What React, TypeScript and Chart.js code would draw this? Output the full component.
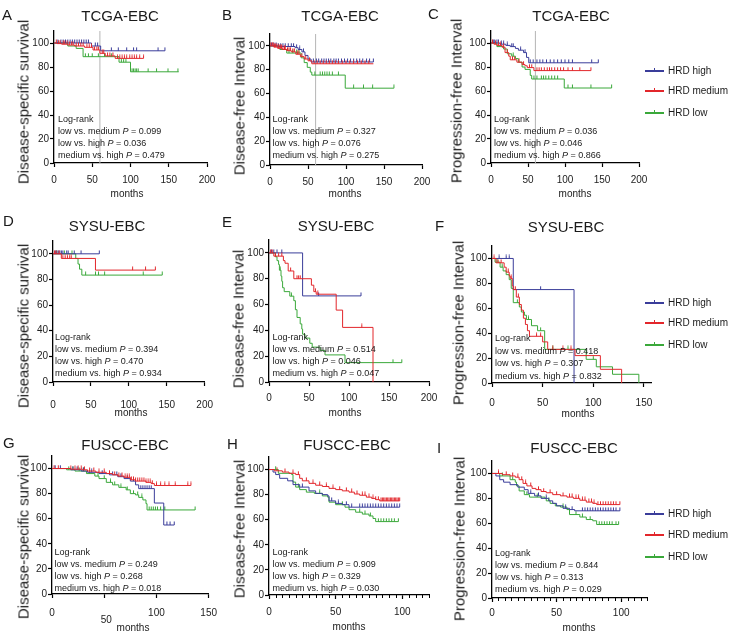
import React, { useEffect, useRef } from "react";
import { Chart, registerables } from "chart.js";
Chart.register(...registerables);

type Pt = [number, number];

// ---------- shared tick / label values ----------
const Y_TICKS = [0, 20, 40, 60, 80, 100];
const X_TICKS_200 = [0, 50, 100, 150, 200];
const X_TICKS_150 = [0, 50, 100, 150];
const X_TICKS_100 = [0, 50, 100];
const REF_MONTH = 60;
const GROUPS = ["HRD high", "HRD medium", "HRD low"];
const COMPARISONS = ["low vs. medium", "low vs. high", "medium vs. high"];

// ---------- P values ----------
const P_A = ["0.099", "0.036", "0.479"];
const P_B = ["0.327", "0.076", "0.275"];
const P_C = ["0.036", "0.046", "0.866"];
const P_D = ["0.394", "0.470", "0.934"];
const P_E = ["0.514", "0.046", "0.047"];
const P_F = ["0.418", "0.307", "0.832"];
const P_G = ["0.249", "0.268", "0.018"];
const P_H = ["0.909", "0.329", "0.030"];
const P_I = ["0.844", "0.313", "0.029"];

// ---------- A: TCGA DSS ----------
const A_high: Pt[] = [[0, 100], [49, 97.5], [61, 93.5], [145, 93.5]];
const A_high_c = [5, 9, 12, 15, 18, 21, 24, 27, 30, 33, 36, 39, 42, 45, 54, 57, 75, 84, 95, 104, 108, 136, 145];
const A_med: Pt[] = [[0, 100], [4, 99.5], [10, 99], [18, 98.3], [27, 97.5], [40, 96.4], [51, 94.2], [60, 91.4], [67, 89.2], [80, 87.2], [117, 87.2]];
const A_med_c = [3, 6, 8, 12, 14, 17, 20, 23, 25, 29, 32, 35, 38, 43, 46, 49, 53, 56, 58, 63, 65, 70, 73, 77, 83, 86, 89, 92, 95, 99, 102, 105, 108, 112, 117];
const A_low: Pt[] = [[0, 100], [18, 97.5], [29, 95.5], [38, 88.6], [85, 84], [100, 76], [163, 76]];
const A_low_c = [41, 45, 50, 58, 66, 75, 88, 91, 94, 102, 104, 106, 108, 110, 123, 134, 149, 162];

// ---------- B: TCGA DFI ----------
const B_high: Pt[] = [[0, 100], [10, 99.5], [33, 98.5], [37, 97], [42, 95], [46, 92], [50, 89], [54, 86.5], [136, 86.5]];
const B_high_c = [2, 5, 8, 11, 14, 17, 20, 24, 28, 31, 35, 39, 44, 57, 61, 64, 68, 71, 74, 77, 80, 84, 87, 90, 94, 98, 102, 106, 110, 114, 118, 122, 127, 131, 136];
const B_med: Pt[] = [[0, 100], [5, 99], [10, 98], [16, 97], [22, 96], [28, 95], [34, 93], [40, 91], [45, 89], [50, 87.5], [55, 85], [136, 85]];
const B_med_c = [1, 3, 4, 6, 7, 9, 11, 12, 14, 15, 17, 19, 20, 23, 25, 27, 30, 32, 36, 38, 42, 47, 52, 58, 62, 66, 70, 74, 78, 82, 86, 90, 95, 100, 105, 110, 115, 120, 125, 130];
const B_low: Pt[] = [[0, 100], [13, 97], [22, 94], [41, 90], [45, 86], [49, 82], [53, 78], [55, 75.5], [99, 64.5], [163, 64.5]];
const B_low_c = [25, 30, 35, 38, 59, 66, 69, 72, 75, 78, 82, 90, 110, 123, 135, 163];

// ---------- C: TCGA PFI ----------
const C_high: Pt[] = [[0, 100], [12, 99], [20, 98], [26, 97], [33, 95.5], [37, 94], [44, 92], [48, 88], [51, 83.5], [145, 83.5]];
const C_high_c = [3, 5, 8, 10, 14, 17, 22, 28, 30, 40, 46, 53, 57, 62, 66, 70, 75, 80, 85, 90, 95, 100, 105, 110, 136, 145];
const C_med: Pt[] = [[0, 100], [4, 99], [8, 98], [15, 96.5], [19, 92], [24, 89], [26, 86], [35, 84], [42, 82], [46, 81], [49, 79.5], [58, 77], [135, 77]];
const C_med_c = [2, 6, 10, 13, 17, 22, 29, 32, 38, 44, 52, 55, 62, 65, 68, 72, 76, 79, 82, 86, 90, 94, 98, 104, 110, 120, 135];
const C_low: Pt[] = [[0, 100], [8, 97], [17, 95], [22, 91], [28, 89], [33, 87], [37, 84], [42, 80], [46, 78], [53, 73], [55, 70], [99, 62.5], [163, 62.5]];
const C_low_c = [30, 58, 62, 68, 71, 74, 78, 82, 86, 90, 104, 110, 135, 163];

// ---------- D: SYSU DSS ----------
const D_high: Pt[] = [[0, 100], [61, 100]];
const D_high_c = [3, 5, 7, 9, 11, 13, 18, 20, 28, 37, 61];
const D_med: Pt[] = [[0, 100], [11, 96.4], [56, 87.3], [135, 87.3]];
const D_med_c = [2, 4, 8, 13, 16, 19, 22, 24, 105, 122, 135];
const D_low: Pt[] = [[0, 100], [30, 96.4], [33, 92], [35, 88], [38, 83.4], [144, 83.4]];
const D_low_c = [5, 15, 25, 43, 56, 60, 68, 119, 144];

// ---------- E: SYSU DFI ----------
const E_high: Pt[] = [[0, 100], [42, 66.7], [115, 66.7]];
const E_high_c = [3, 6, 10, 16, 62, 115];
const E_med: Pt[] = [[0, 100], [6, 97.5], [18, 94], [20, 92], [24, 86], [31, 80], [53, 75], [56, 70], [59, 68], [84, 55.7], [92, 42.3], [130, 0]];
const E_med_c = [2, 4, 8, 12, 16, 27, 35, 37, 39, 58, 61, 116];
const E_low: Pt[] = [[0, 100], [8, 97], [10, 94], [12, 91], [13, 86.6], [15, 82], [16, 78], [17, 73], [19, 70], [26, 66.5], [31, 63], [33, 56], [35, 50], [39, 45], [41, 41], [42, 37], [45, 34], [51, 30], [54, 27], [64, 24.5], [70, 21], [95, 15], [166, 15]];
const E_low_c = [14, 28, 155, 166];

// ---------- F: SYSU PFI ----------
const F_high: Pt[] = [[0, 100], [21, 75], [81, 0]];
const F_high_c = [7, 14, 17, 48];
const F_med: Pt[] = [[0, 100], [4, 96.5], [12, 93], [14, 89], [17, 86], [18, 84], [20, 78], [21, 75], [24, 69], [27, 63], [29, 58.5], [31, 52], [33, 47], [35, 42], [37, 37.5], [50, 33], [55, 27], [82, 22], [107, 11], [128, 0]];
const F_med_c = [2, 6, 9, 16, 19, 23, 26, 44, 48, 60, 70, 78];
const F_low: Pt[] = [[0, 100], [3, 97], [8, 93], [11, 90], [14, 87], [17, 83], [19, 76], [21, 64.5], [27, 61], [29, 57], [32, 54.4], [34, 51], [39, 46], [45, 42], [52, 27], [93, 19], [103, 13], [119, 7], [145, 0]];
const F_low_c = [5, 10, 25, 36, 48, 60, 75, 100];

// ---------- G: FUSCC DSS ----------
const G_high: Pt[] = [[0, 100], [18, 99], [28, 98], [34, 97], [45, 96], [55, 95], [63, 93.5], [69, 92], [75, 90], [80, 87], [83, 84], [98, 72.5], [107, 55], [117, 55]];
const G_high_c = [3, 8, 20, 24, 30, 38, 48, 58, 62, 66, 72, 78, 85, 87, 89, 91, 93, 95, 110, 113, 117];
const G_med: Pt[] = [[0, 100], [18, 99.5], [29, 99], [34, 98], [42, 97], [52, 96], [58, 95], [63, 94], [69, 93], [75, 91], [80, 90], [90, 89], [95, 88], [98, 86.5], [133, 86.5]];
const G_med_c = [2, 6, 18, 22, 25, 28, 31, 36, 40, 45, 50, 55, 60, 64, 67, 70, 72, 74, 76, 78, 80, 82, 84, 86, 88, 90, 92, 94, 96, 100, 104, 108, 112, 118, 130, 133];
const G_low: Pt[] = [[0, 100], [14, 99], [22, 98], [33, 96], [41, 94], [45, 92], [52, 89], [58, 87], [64, 85], [71, 83], [75, 80], [80, 79], [83, 77], [87, 75], [90, 72], [91, 67], [137, 67]];
const G_low_c = [16, 20, 26, 30, 36, 44, 50, 56, 60, 66, 72, 78, 82, 86, 93, 95, 97, 99, 101, 104, 108, 137];

// ---------- H: FUSCC DFI ----------
const H_high: Pt[] = [[0, 100], [3, 98], [5, 96], [8, 93], [14, 91], [18, 88], [23, 86], [30, 83], [35, 81], [40, 80], [44, 79], [45, 75], [50, 73], [55, 72], [60, 70], [98, 70]];
const H_high_c = [25, 47, 52, 58, 62, 68, 70, 72, 74, 76, 78, 80, 82, 84, 86, 88, 90, 92, 94, 96, 98];
const H_med: Pt[] = [[0, 100], [4, 99], [10, 98], [15, 97], [20, 96], [23, 93], [25, 91], [30, 89], [35, 87.5], [40, 86.5], [45, 85], [50, 84], [55, 83], [60, 82], [64, 80.5], [68, 79.5], [73, 78], [77, 77], [80, 76], [83, 75], [98, 75]];
const H_med_c = [6, 12, 18, 22, 28, 33, 38, 43, 48, 53, 58, 62, 66, 70, 72, 75, 78, 80, 82, 84, 85, 86, 87, 88, 89, 90, 91, 92, 93, 94, 95, 96, 97, 98];
const H_low: Pt[] = [[0, 100], [7, 97], [17, 96], [18, 90], [20, 86], [23, 84], [28, 82], [34, 81], [40, 79], [44, 78], [45, 74], [50, 72], [57, 70], [60, 68], [65, 66], [70, 64.5], [75, 63], [78, 61], [80, 58.5], [97, 58.5]];
const H_low_c = [5, 22, 38, 55, 68, 72, 76, 82, 84, 86, 88, 90, 92, 94, 97];

// ---------- I: FUSCC PFI ----------
const I_high: Pt[] = [[0, 100], [3, 98], [6, 95], [9, 93], [14, 91], [20, 89], [25, 87], [28, 84], [33, 82], [38, 80], [44, 78], [47, 76], [50, 74], [55, 72], [60, 71], [64, 70], [99, 70]];
const I_high_c = [30, 36, 42, 57, 62, 70, 72, 74, 76, 78, 80, 82, 84, 86, 88, 90, 92, 94, 96, 99];
const I_med: Pt[] = [[0, 100], [8, 99], [14, 98], [18, 97], [21, 95], [24, 92], [27, 90], [31, 88], [34, 87], [38, 85.5], [42, 84.5], [47, 83], [53, 82], [58, 81], [63, 80], [68, 78.5], [73, 77], [78, 76], [81, 75], [99, 75]];
const I_med_c = [5, 11, 16, 20, 23, 26, 30, 36, 40, 45, 50, 55, 60, 62, 65, 67, 70, 72, 75, 77, 79, 82, 84, 86, 88, 90, 92, 94, 96, 99];
const I_low: Pt[] = [[0, 100], [6, 98], [14, 95], [18, 93], [19, 90], [21, 86], [25, 83], [29, 81], [41, 80], [42, 78], [45, 76], [49, 74], [53, 73], [58, 71], [60, 67], [68, 65], [73, 63], [78, 62], [81, 59], [98, 59]];
const I_low_c = [8, 16, 27, 35, 44, 55, 65, 70, 76, 83, 85, 87, 89, 91, 93, 96, 98];

// ---------- styling ----------
const BLUE = "#3a3d9a";
const RED = "#e2262b";
const GREEN = "#3aa83a";
const FONT = "'Liberation Sans', Arial, Helvetica, sans-serif";
const TEXT = "#1a1a1a";

type Series = { color: string; steps: Pt[]; cens: number[] };
type PanelSpec = {
  letter: string; letterX: number; letterY: number;
  title: string; titleX: number; titleY: number;
  ylabel: string; ylX: number; ylY: number;
  mX: number; mY: number;
  x0: number; x1: number; yTop: number; yB: number;
  xMax: number; xTicks: number[]; tickPad: number; minor: number; ref: boolean;
  dropTick?: number; dropDy?: number; dropDx?: number;
  pvals: string[]; lrX: number; lrY: number; lrLH: number;
  series: Series[];
};

const ser = (color: string, steps: Pt[], cens: number[]): Series => ({ color, steps, cens });

const PANELS: PanelSpec[] = [
  { letter: "A", letterX: 2, letterY: 14, title: "TCGA-EBC", titleX: 120, titleY: 15, ylabel: "Disease-specific survival", ylX: 23, ylY: 102, mX: 127, mY: 194,
    x0: 54, x1: 207, yTop: 31, yB: 163, xMax: 200, xTicks: X_TICKS_200, tickPad: 7, minor: 0, ref: true,
    pvals: P_A, lrX: 58, lrY: 118.5, lrLH: 12.3,
    series: [ser(RED, A_med, A_med_c), ser(BLUE, A_high, A_high_c), ser(GREEN, A_low, A_low_c)] },
  { letter: "B", letterX: 222, letterY: 14, title: "TCGA-EBC", titleX: 340, titleY: 15, ylabel: "Disease-free Interval", ylX: 238.5, ylY: 106, mX: 345, mY: 194,
    x0: 270, x1: 422, yTop: 34, yB: 165, xMax: 200, xTicks: X_TICKS_200, tickPad: 7, minor: 0, ref: true,
    pvals: P_B, lrX: 272.5, lrY: 118.5, lrLH: 12.3,
    series: [ser(RED, B_med, B_med_c), ser(BLUE, B_high, B_high_c), ser(GREEN, B_low, B_low_c)] },
  { letter: "C", letterX: 428, letterY: 13, title: "TCGA-EBC", titleX: 571, titleY: 15, ylabel: "Progression-free Interval", ylX: 456, ylY: 101, mX: 575, mY: 194,
    x0: 491, x1: 639, yTop: 31, yB: 163, xMax: 200, xTicks: X_TICKS_200, tickPad: 7, minor: 0, ref: true,
    pvals: P_C, lrX: 494, lrY: 118.5, lrLH: 12.3,
    series: [ser(RED, C_med, C_med_c), ser(BLUE, C_high, C_high_c), ser(GREEN, C_low, C_low_c)] },
  { letter: "D", letterX: 3, letterY: 220, title: "SYSU-EBC", titleX: 107, titleY: 225, ylabel: "Disease-specific survival", ylX: 22.5, ylY: 326, mX: 131, mY: 413,
    x0: 53, x1: 210, yTop: 241, yB: 382, xMax: 200, xTicks: X_TICKS_200, tickPad: 13, minor: 0, ref: false,
    pvals: P_D, lrX: 55, lrY: 336.7, lrLH: 12.2,
    series: [ser(RED, D_med, D_med_c), ser(BLUE, D_high, D_high_c), ser(GREEN, D_low, D_low_c)] },
  { letter: "E", letterX: 222, letterY: 221, title: "SYSU-EBC", titleX: 336, titleY: 225, ylabel: "Disease-free Interval", ylX: 238, ylY: 319, mX: 345, mY: 413,
    x0: 269, x1: 429, yTop: 240, yB: 382, xMax: 200, xTicks: X_TICKS_200, tickPad: 6, minor: 0, ref: false,
    pvals: P_E, lrX: 272.5, lrY: 336.7, lrLH: 12.2,
    series: [ser(RED, E_med, E_med_c), ser(BLUE, E_high, E_high_c), ser(GREEN, E_low, E_low_c)] },
  { letter: "F", letterX: 435, letterY: 225, title: "SYSU-EBC", titleX: 566, titleY: 226, ylabel: "Progression-free Interval", ylX: 458, ylY: 323, mX: 578, mY: 414,
    x0: 492, x1: 651, yTop: 246, yB: 383, xMax: 157, xTicks: X_TICKS_150, tickPad: 10, minor: 0, ref: false,
    pvals: P_F, lrX: 495, lrY: 338.3, lrLH: 12.5,
    series: [ser(RED, F_med, F_med_c), ser(BLUE, F_high, F_high_c), ser(GREEN, F_low, F_low_c)] },
  { letter: "G", letterX: 3, letterY: 442, title: "FUSCC-EBC", titleX: 125, titleY: 444, ylabel: "Disease-specific survival", ylX: 23, ylY: 537, mX: 133, mY: 628,
    x0: 52, x1: 210, yTop: 456, yB: 594, xMax: 150, xTicks: X_TICKS_150, tickPad: 9, minor: 0, ref: false,
    dropTick: 50, dropDy: 26, dropDx: 2,
    pvals: P_G, lrX: 54.5, lrY: 551.7, lrLH: 12.2,
    series: [ser(RED, G_med, G_med_c), ser(BLUE, G_high, G_high_c), ser(GREEN, G_low, G_low_c)] },
  { letter: "H", letterX: 227, letterY: 443, title: "FUSCC-EBC", titleX: 347, titleY: 444, ylabel: "Disease-free Interval", ylX: 239, ylY: 529, mX: 349, mY: 627,
    x0: 269, x1: 429, yTop: 457, yB: 595, xMax: 120, xTicks: X_TICKS_100, tickPad: 7, minor: 5, ref: false,
    pvals: P_H, lrX: 272.5, lrY: 551.7, lrLH: 12,
    series: [ser(RED, H_med, H_med_c), ser(BLUE, H_high, H_high_c), ser(GREEN, H_low, H_low_c)] },
  { letter: "I", letterX: 437, letterY: 447, title: "FUSCC-EBC", titleX: 574, titleY: 447, ylabel: "Progression-free Interval", ylX: 459, ylY: 539, mX: 579, mY: 628,
    x0: 492, x1: 647, yTop: 461, yB: 598, xMax: 120, xTicks: X_TICKS_100, tickPad: 5, minor: 5, ref: false,
    pvals: P_I, lrX: 495, lrY: 553.3, lrLH: 12,
    series: [ser(RED, I_med, I_med_c), ser(BLUE, I_high, I_high_c), ser(GREEN, I_low, I_low_c)] },
];

const LEGEND_ROWS = [
  [71, 91, 113],
  [303, 323, 345],
  [514, 535, 557],
];
const LEGEND_COLORS = [BLUE, RED, GREEN];

const PAD_L = 46, PAD_T = 12, PAD_R = 16, PAD_B = 36;

function stepValue(steps: Pt[], t: number): number {
  let v = steps[0][1];
  for (const [x, y] of steps) {
    if (x <= t) v = y;
    else break;
  }
  return v;
}

function tickImage(color: string): HTMLCanvasElement {
  const c = document.createElement("canvas");
  c.width = 3;
  c.height = 8;
  const g = c.getContext("2d")!;
  g.fillStyle = color;
  g.fillRect(1, 0.5, 1, 3.5);
  return c;
}

function KMPanel({ p }: { p: PanelSpec }) {
  const ref = useRef<HTMLCanvasElement | null>(null);
  const W = p.x1 - p.x0 + PAD_L + PAD_R;
  const H = p.yB - p.yTop + PAD_T + PAD_B;
  const L = p.x0 - PAD_L;
  const T = p.yTop - PAD_T;

  useEffect(() => {
    if (!ref.current) return;
    const datasets: any[] = [];
    for (const s of p.series) {
      datasets.push({
        data: s.steps.map(([x, y]) => ({ x, y })),
        showLine: true,
        stepped: true,
        borderColor: s.color,
        borderWidth: 1,
        pointRadius: 0,
        fill: false,
      });
      datasets.push({
        data: s.cens.map((t) => ({ x: t, y: stepValue(s.steps, t) })),
        showLine: false,
        pointStyle: tickImage(s.color),
        pointRadius: 3,
        borderWidth: 0,
        backgroundColor: s.color,
        borderColor: s.color,
      });
    }
    if (p.ref) {
      datasets.push({
        data: [{ x: REF_MONTH, y: 0 }, { x: REF_MONTH, y: 110 }],
        showLine: true,
        borderColor: "#b5b5b5",
        borderWidth: 1,
        pointRadius: 0,
      });
    }
    const extraPlugin = {
      id: "axisExtras",
      afterDraw(chart: any) {
        const xs = chart.scales.x;
        const ctx = chart.ctx;
        const yb = chart.chartArea.bottom;
        ctx.save();
        if (p.minor) {
          ctx.strokeStyle = "#000";
          ctx.lineWidth = 1;
          ctx.beginPath();
          for (let v = p.minor; v <= p.xMax; v += p.minor) {
            if (p.xTicks.includes(v)) continue;
            const px = Math.round(xs.getPixelForValue(v)) + 0.5;
            ctx.moveTo(px, yb);
            ctx.lineTo(px, yb + 3);
          }
          ctx.stroke();
        }
        if (p.dropTick !== undefined) {
          ctx.fillStyle = "#222";
          ctx.font = `10px ${FONT}`;
          ctx.textAlign = "center";
          ctx.textBaseline = "middle";
          ctx.fillText(String(p.dropTick), xs.getPixelForValue(p.dropTick) + (p.dropDx || 0), yb + (p.dropDy || 0));
        }
        ctx.restore();
      },
    };
    const axisCommon = {
      type: "linear" as const,
      grid: {
        display: true,
        drawOnChartArea: false,
        drawTicks: true,
        tickLength: 4,
        tickColor: "#000",
        tickWidth: 1.2,
        color: "rgba(0,0,0,0)",
      },
      border: { display: true, color: "#000", width: 1.3 },
    };
    const chart = new Chart(ref.current, {
      type: "scatter",
      data: { datasets },
      plugins: [extraPlugin],
      options: {
        responsive: false,
        animation: false,
        devicePixelRatio: 1,
        events: [],
        layout: { padding: { left: 0, top: PAD_T, right: PAD_R, bottom: 0 } },
        plugins: { legend: { display: false }, tooltip: { enabled: false }, title: { display: false } },
        scales: {
          x: {
            ...axisCommon,
            min: 0,
            max: p.xMax,
            afterFit: (s: any) => { s.height = PAD_B; },
            afterBuildTicks: (s: any) => { s.ticks = p.xTicks.map((v) => ({ value: v })); },
            ticks: {
              padding: p.tickPad,
              font: { family: FONT, size: 10 },
              color: "#222",
              maxRotation: 0,
              autoSkip: false,
              callback: (v: any) => (p.dropTick !== undefined && Number(v) === p.dropTick ? "" : String(v)),
            },
          },
          y: {
            ...axisCommon,
            min: 0,
            max: 110,
            afterFit: (s: any) => { s.width = PAD_L; },
            afterBuildTicks: (s: any) => { s.ticks = Y_TICKS.map((v) => ({ value: v })); },
            ticks: { padding: 1, font: { family: FONT, size: 10 }, color: "#222", autoSkip: false },
          },
        },
      } as any,
    });
    return () => chart.destroy();
  }, [p]);

  const abs: React.CSSProperties = { position: "absolute", whiteSpace: "nowrap", lineHeight: 1 };
  return (
    <>
      <canvas ref={ref} width={W} height={H} style={{ position: "absolute", left: L, top: T, width: W, height: H }} />
      <div style={{ ...abs, left: p.letterX, top: p.letterY, transform: "translate(0,-50%)", fontSize: 15 }}>{p.letter}</div>
      <div style={{ ...abs, left: p.titleX, top: p.titleY, transform: "translate(-50%,-50%)", fontSize: 15 }}>{p.title}</div>
      <div style={{ ...abs, left: p.ylX, top: p.ylY, transform: "translate(-50%,-50%) rotate(-90deg)", fontSize: 15 }}>{p.ylabel}</div>
      <div style={{ ...abs, left: p.mX, top: p.mY, transform: "translate(-50%,-50%)", fontSize: 10 }}>months</div>
      {["Log-rank", ...COMPARISONS].map((txt, i) => (
        <div
          key={i}
          style={{ ...abs, left: p.lrX, top: p.lrY + i * p.lrLH, transform: "translate(0,-50%)", fontSize: 9 }}
        >
          {i === 0 ? txt : (<>{txt} <i>P</i> = {p.pvals[i - 1]}</>)}
        </div>
      ))}
    </>
  );
}

function Legend({ ys }: { ys: number[] }) {
  return (
    <>
      {ys.map((y, i) => (
        <React.Fragment key={i}>
          <div style={{ position: "absolute", left: 645, top: y - 0.6, width: 19, height: 1.2, background: LEGEND_COLORS[i] }} />
          <div style={{ position: "absolute", left: 654, top: y - 3.5, width: 1.2, height: 3.5, background: LEGEND_COLORS[i] }} />
          <div style={{ position: "absolute", left: 668, top: y, transform: "translate(0,-50%)", fontSize: 10, lineHeight: 1, whiteSpace: "nowrap" }}>
            {GROUPS[i]}
          </div>
        </React.Fragment>
      ))}
    </>
  );
}

export default function App() {
  return (
    <div style={{ position: "absolute", left: 0, top: 0, width: 730, height: 635, background: "#fff", fontFamily: FONT, color: TEXT, overflow: "hidden" }}>
      {PANELS.map((p) => (
        <KMPanel key={p.letter} p={p} />
      ))}
      {LEGEND_ROWS.map((ys, i) => (
        <Legend key={i} ys={ys} />
      ))}
    </div>
  );
}
